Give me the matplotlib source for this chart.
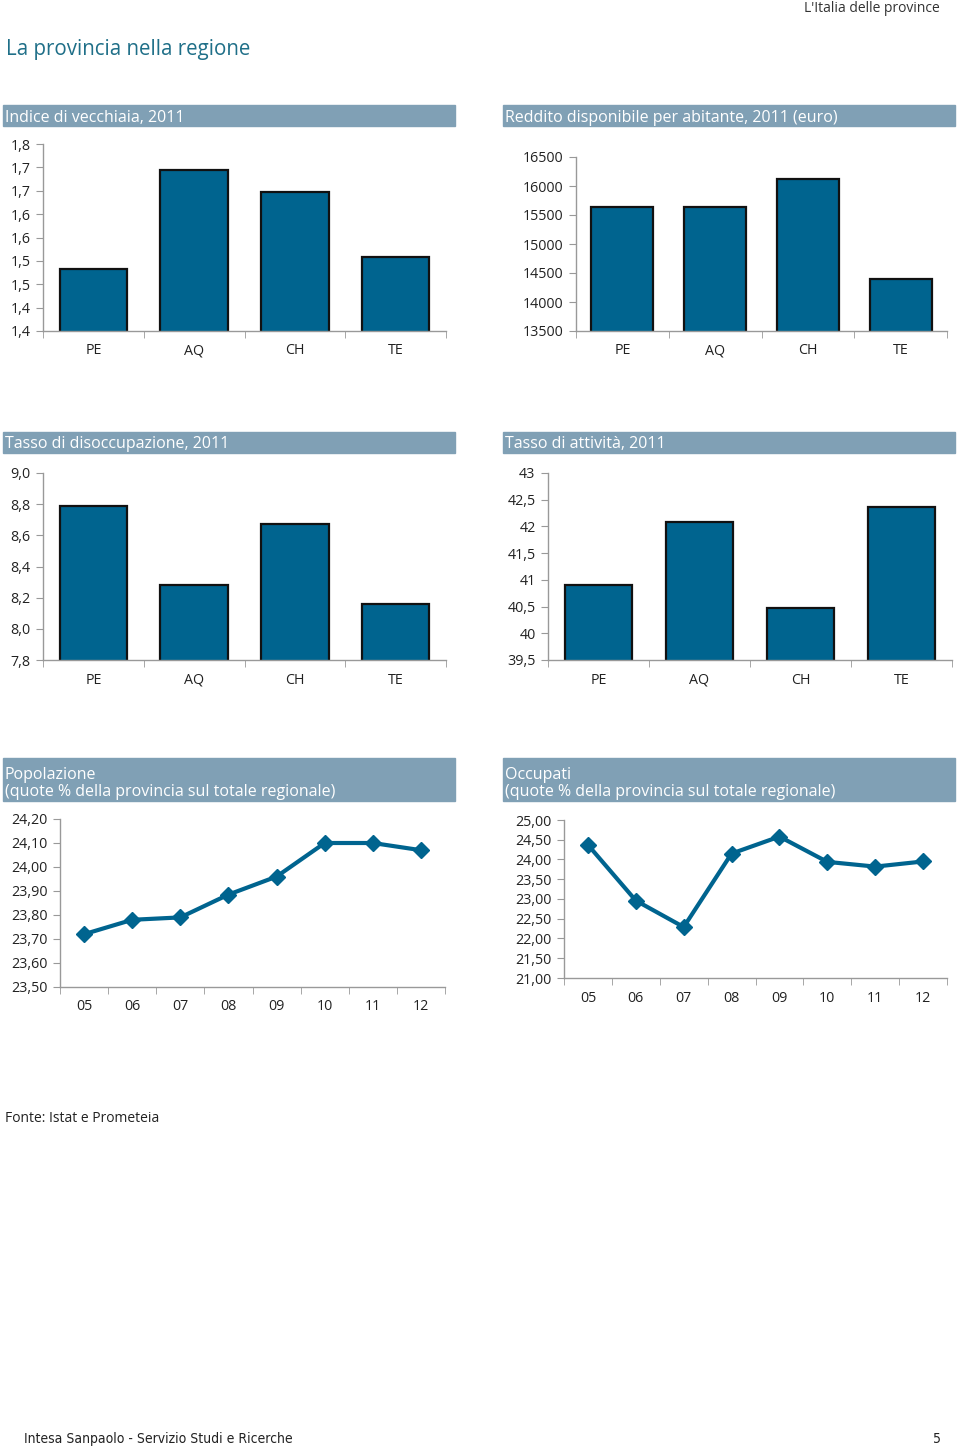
import matplotlib
matplotlib.use("Agg")
import matplotlib.pyplot as plt
from matplotlib.patches import Rectangle

plt.rcParams['font.family'] = ['Open Sans', 'DejaVu Sans']

# dati
province = ['PE', 'AQ', 'CH', 'TE']
vecchiaia = [1.532, 1.745, 1.698, 1.559]
reddito = [15646, 15640, 16122, 14395]
disoccupazione = [8.79, 8.28, 8.67, 8.16]
attivita = [40.91, 42.08, 40.47, 42.37]

anni = ['05', '06', '07', '08', '09', '10', '11', '12']
popolazione = [23.72, 23.78, 23.79, 23.885, 23.96, 24.10, 24.10, 24.07]
occupati = [24.37, 22.96, 22.29, 24.15, 24.58, 23.94, 23.82, 23.95]

BLU = '#00648f'
HEAD = '#80a0b5'
W, H = 960, 1450

fig = plt.figure(figsize=(W / 100, H / 100), dpi=100)


def ax_px(x0, y0, x1, y1):
    return fig.add_axes([x0 / W, 1 - y1 / H, (x1 - x0) / W, (y1 - y0) / H])


def header(x0, y0, x1, y1, testo):
    fig.patches.append(Rectangle((x0 / W, 1 - y1 / H), (x1 - x0) / W, (y1 - y0) / H,
                                 transform=fig.transFigure, color=HEAD, zorder=0))
    fig.text((x0 + 2) / W, 1 - (y1 - 0.5) / H, testo, color='white', fontsize=11.5,
             ha='left', va='bottom', linespacing=1.15)


def stile(ax, yticks, ylabels, n):
    for s in ['top', 'right']:
        ax.spines[s].set_visible(False)
    for s in ['left', 'bottom']:
        ax.spines[s].set_color('#999999')
        ax.spines[s].set_linewidth(1)
    ax.set_yticks(yticks)
    ax.set_yticklabels(ylabels)
    ax.set_ylim(yticks[0], yticks[-1])
    ax.set_xlim(-0.5, n - 0.5)
    ax.set_xticks([i - 0.5 for i in range(n + 1)], minor=True)
    ax.tick_params(axis='x', which='minor', length=5, color='#999999', direction='out')
    ax.tick_params(axis='x', which='major', length=0, pad=9, labelsize=10.3, labelcolor='#222222')
    ax.tick_params(axis='y', length=5, color='#999999', labelsize=10.3, labelcolor='#222222', pad=4)
    ax.patch.set_alpha(0)


def barre(ax, valori, yticks, ylabels):
    ax.bar(range(len(valori)), valori, width=0.67, color=BLU, edgecolor='#111111',
           linewidth=1.6, bottom=0, zorder=2)
    ax.set_xticks(range(len(valori)))
    ax.set_xticklabels(province)
    stile(ax, yticks, ylabels, len(valori))


def linea(ax, valori, yticks, ylabels):
    ax.plot(range(len(valori)), valori, color=BLU, linewidth=3, marker='D',
            markersize=8.5, zorder=3, clip_on=False)
    ax.set_xticks(range(len(valori)))
    ax.set_xticklabels(anni)
    stile(ax, yticks, ylabels, len(valori))


# testi di pagina
fig.text(940 / W, 1 - 8 / H, "L'Italia delle province", fontsize=10, color='#333333',
         ha='right', va='center')
fig.text(6 / W, 1 - 49 / H, 'La provincia nella regione', fontsize=14.8, color='#1f6f88',
         ha='left', va='center')

# riga 1
header(3, 105, 455, 126, 'Indice di vecchiaia, 2011')
header(503, 105, 955, 126, 'Reddito disponibile per abitante, 2011 (euro)')
ax1 = ax_px(43, 144, 446, 331)
barre(ax1, vecchiaia, [1.40, 1.45, 1.50, 1.55, 1.60, 1.65, 1.70, 1.75, 1.80],
      ['1,4', '1,4', '1,5', '1,5', '1,6', '1,6', '1,7', '1,7', '1,8'])
ax2 = ax_px(576, 157, 947, 331)
barre(ax2, reddito, [13500, 14000, 14500, 15000, 15500, 16000, 16500],
      ['13500', '14000', '14500', '15000', '15500', '16000', '16500'])

# riga 2
header(3, 432, 455, 453, 'Tasso di disoccupazione, 2011')
header(503, 432, 955, 453, 'Tasso di attività, 2011')
ax3 = ax_px(43, 473, 446, 660)
barre(ax3, disoccupazione, [7.8, 8.0, 8.2, 8.4, 8.6, 8.8, 9.0],
      ['7,8', '8,0', '8,2', '8,4', '8,6', '8,8', '9,0'])
ax4 = ax_px(548, 473, 952, 660)
barre(ax4, attivita, [39.5, 40, 40.5, 41, 41.5, 42, 42.5, 43],
      ['39,5', '40', '40,5', '41', '41,5', '42', '42,5', '43'])

# riga 3
header(3, 758, 455, 801, 'Popolazione\n(quote % della provincia sul totale regionale)')
header(503, 758, 955, 801, 'Occupati\n(quote % della provincia sul totale regionale)')
ax5 = ax_px(60, 819, 445, 987)
linea(ax5, popolazione, [23.5, 23.6, 23.7, 23.8, 23.9, 24.0, 24.1, 24.2],
      ['23,50', '23,60', '23,70', '23,80', '23,90', '24,00', '24,10', '24,20'])
ax6 = ax_px(564, 820, 947, 978)
linea(ax6, occupati, [21.0, 21.5, 22.0, 22.5, 23.0, 23.5, 24.0, 24.5, 25.0],
      ['21,00', '21,50', '22,00', '22,50', '23,00', '23,50', '24,00', '24,50', '25,00'])

# fonte e piè di pagina
fig.text(5 / W, 1 - 1118 / H, 'Fonte: Istat e Prometeia', fontsize=10, color='#222222',
         ha='left', va='center')
fig.text(24 / W, 1 - 1439 / H, 'Intesa Sanpaolo - Servizio Studi e Ricerche', fontsize=10,
         color='#222222', ha='left', va='center',
         family=['DejaVu Sans'], fontstretch='condensed')
fig.text(941 / W, 1 - 1439 / H, '5', fontsize=10, color='#222222', ha='right', va='center',
         family=['DejaVu Sans'], fontstretch='condensed')

fig.savefig('out.png', dpi=100)
